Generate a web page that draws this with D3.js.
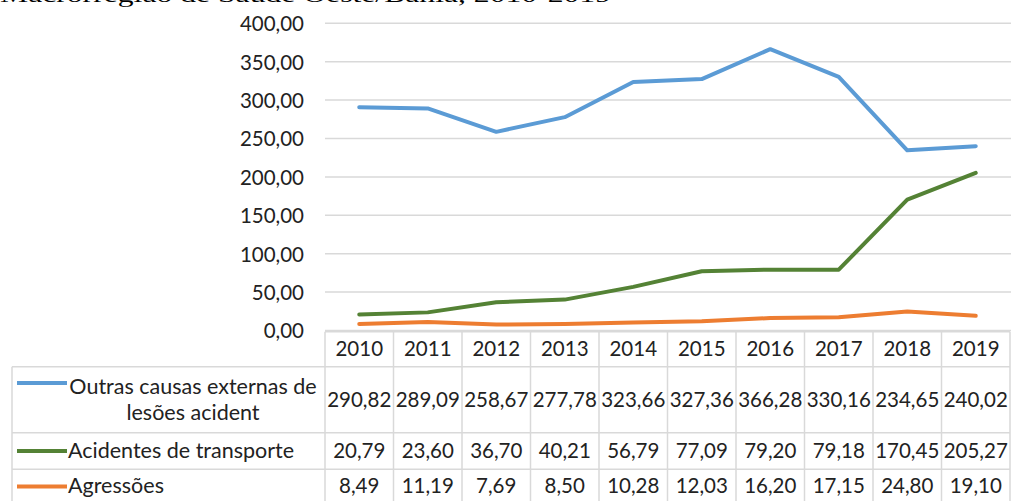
<!DOCTYPE html>
<html><head><meta charset="utf-8">
<script src="https://cdn.jsdelivr.net/npm/d3@7"></script>
<style>
html,body{margin:0;padding:0;background:#fff;overflow:hidden;}
svg{display:block;}
</style></head>
<body><svg id="c" width="1011" height="501"></svg>
<script>
const title = "Macrorregião de Saúde Oeste/Bahia, 2010-2019";
const years = ["2010","2011","2012","2013","2014","2015","2016","2017","2018","2019"];
const seriesNames = ["Outras causas externas de lesões acident", "Acidentes de transporte", "Agressões"];
const seriesLabelLines = [["Outras causas externas de", "lesões acident"], ["Acidentes de transporte"], ["Agressões"]];
const seriesColors = ["#5b9bd5", "#548235", "#ed7d31"];
const outras = [290.82, 289.09, 258.67, 277.78, 323.66, 327.36, 366.28, 330.16, 234.65, 240.02];
const acidentes = [20.79, 23.60, 36.70, 40.21, 56.79, 77.09, 79.20, 79.18, 170.45, 205.27];
const agressoes = [8.49, 11.19, 7.69, 8.50, 10.28, 12.03, 16.20, 17.15, 24.80, 19.10];
const yTicks = [0, 50, 100, 150, 200, 250, 300, 350, 400];
const seriesValues = [outras, acidentes, agressoes];

const loc = d3.formatLocale({decimal: ",", thousands: ".", grouping: [3], currency: ["R$", ""]});
const fmt = loc.format(".2f");

const svg = d3.select("#c");
const FONT = "Lato, 'Open Sans', sans-serif";
const TXT = "#222";
const GRID = "#d9d9d9";

const x = d3.scaleBand().domain(years).range([325, 1010]);
const y = d3.scaleLinear().domain([0, 400]).range([330.5, 23.3]);

// title (cropped at top, as in the reference)
svg.append("text").attr("x", 0).attr("y", 1.5)
  .attr("font-family", "'Liberation Serif', 'Times New Roman', serif")
  .attr("font-size", 22).attr("fill", "#000")
  .attr("textLength", 611).attr("lengthAdjust", "spacingAndGlyphs")
  .text(title);

// gridlines
svg.append("g").selectAll("line").data(yTicks).join("line")
  .attr("x1", 325).attr("x2", 1011)
  .attr("y1", d => y(d)).attr("y2", d => y(d))
  .attr("stroke", GRID).attr("stroke-width", 1.5);

// y axis labels
const yAxis = d3.axisLeft(y).tickValues(yTicks).tickFormat(fmt).tickSize(0).tickPadding(0);
const ya = svg.append("g").attr("transform", "translate(304,0)").call(yAxis);
ya.select(".domain").remove();
ya.selectAll("text").attr("font-family", FONT).attr("font-size", 20.5).attr("fill", TXT)
  .attr("dy", "0.36em");

// lines
const line = d3.line().x((d, i) => x(years[i]) + x.bandwidth() / 2).y(d => y(d));
svg.append("g").selectAll("path").data(seriesValues).join("path")
  .attr("d", d => line(d)).attr("fill", "none")
  .attr("stroke", (d, i) => seriesColors[i]).attr("stroke-width", 4)
  .attr("stroke-linejoin", "round").attr("stroke-linecap", "round");

// table
const rowTops = [331.7, 366.7, 432.7, 469.3, 506];
const tb = svg.append("g");
function hl(x1, x2, yy) { tb.append("line").attr("x1", x1).attr("x2", x2).attr("y1", yy).attr("y2", yy).attr("stroke", GRID).attr("stroke-width", 1.5); }
function vl(xx, y1, y2) { tb.append("line").attr("x1", xx).attr("x2", xx).attr("y1", y1).attr("y2", y2).attr("stroke", GRID).attr("stroke-width", 1.5); }
hl(325, 1010, rowTops[0]);
hl(12, 1010, rowTops[1]);
hl(12, 1010, rowTops[2]);
hl(12, 1010, rowTops[3]);
vl(12, rowTops[1], 506);
years.forEach(yr => vl(x(yr), rowTops[0], 506));
vl(1010, rowTops[0], 506);

// header years
tb.selectAll("text.yr").data(years).join("text").attr("class", "yr")
  .attr("x", d => x(d) + x.bandwidth() / 2).attr("y", 356)
  .attr("text-anchor", "middle").attr("font-family", FONT).attr("font-size", 20.5).attr("fill", TXT)
  .text(d => d);

// value rows
const valueBaselines = [407, 458, 493];
seriesValues.forEach((vals, si) => {
  tb.append("g").selectAll("text").data(vals).join("text")
    .attr("x", (d, i) => x(years[i]) + x.bandwidth() / 2).attr("y", valueBaselines[si])
    .attr("text-anchor", "middle").attr("font-family", FONT).attr("font-size", 20.5).attr("fill", TXT)
    .text(d => fmt(d));
});

// legend labels
const swatchY = [383, 451, 486.5];
const labelBaselines = [[394, 420], [458], [493]];
seriesNames.forEach((name, si) => {
  tb.append("line").attr("x1", 17).attr("x2", 67).attr("y1", swatchY[si]).attr("y2", swatchY[si])
    .attr("stroke", seriesColors[si]).attr("stroke-width", 4);
  const lines = seriesLabelLines[si];
  lines.forEach((ln, li) => {
    const t = tb.append("text").attr("y", labelBaselines[si][li])
      .attr("font-family", FONT).attr("font-size", 21.5).attr("fill", TXT).text(ln);
    if (lines.length > 1) t.attr("x", 193).attr("text-anchor", "middle");
    else t.attr("x", 68);
  });
});
</script>
</body></html>
